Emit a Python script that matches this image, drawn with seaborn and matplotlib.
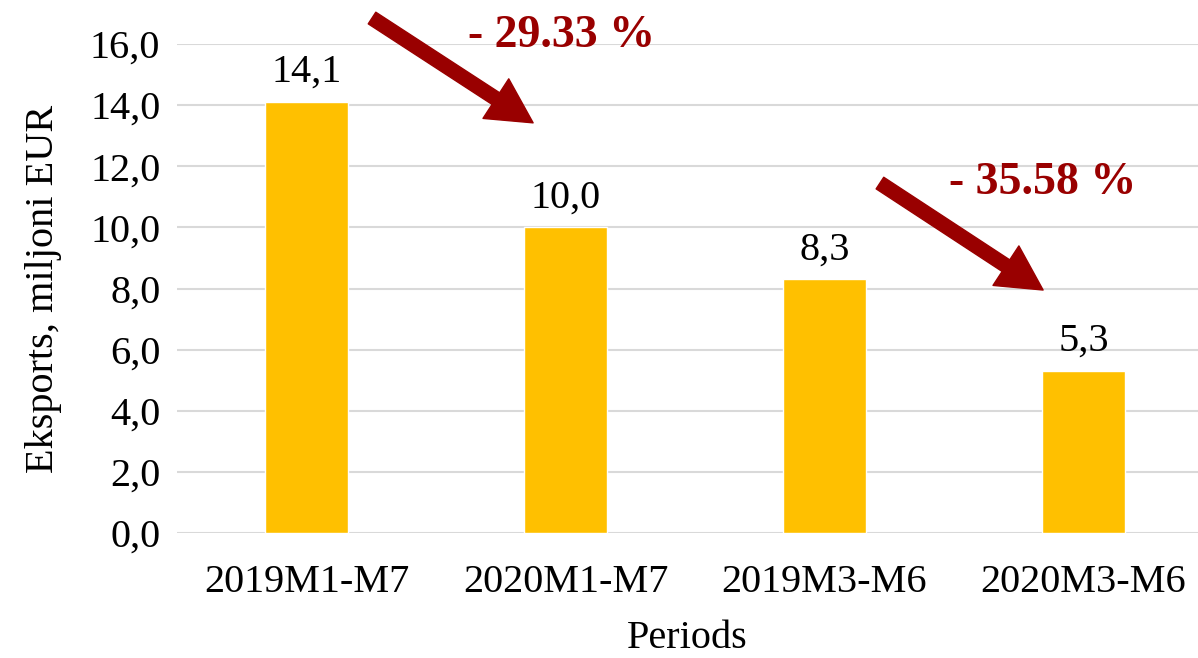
import pandas as pd
import matplotlib
matplotlib.use("Agg")
import matplotlib.pyplot as plt
import seaborn as sns
from matplotlib.ticker import FuncFormatter

# Data
periods = ["2019M1-M7", "2020M1-M7", "2019M3-M6", "2020M3-M6"]
exports = [14.1, 10.0, 8.3, 5.3]
change_labels = ["- 29.33 %", "- 35.58 %"]

bar_color = "#FFC000"
arrow_color = "#990000"

sns.set_theme(style="white")
plt.rcParams["font.family"] = ["Liberation Serif", "DejaVu Serif"]
plt.rcParams["text.color"] = "black"
plt.rcParams["axes.labelcolor"] = "black"

df = pd.DataFrame({"period": periods, "value": exports})

fig = plt.figure(figsize=(11.98, 6.58), dpi=100)
ax = fig.add_axes([177 / 1198, 125 / 658, 1 - 177 / 1198, 489 / 658])

sns.barplot(data=df, x="period", y="value", color=bar_color, width=0.32,
            saturation=1, ax=ax, zorder=3)

ax.set_ylim(0, 16)
ax.set_xlim(-0.5, 3.442)
ax.set_yticks(range(0, 17, 2))
ax.yaxis.set_major_formatter(FuncFormatter(lambda v, p: f"{v:.1f}".replace(".", ",")))
ax.grid(axis="y", color="#d9d9d9", linewidth=1.5, zorder=0)
ax.set_axisbelow(True)
for s in ax.spines.values():
    s.set_visible(False)
ax.tick_params(axis="both", length=0, labelsize=29, colors="black")
ax.tick_params(axis="x", pad=22)
ax.tick_params(axis="y", pad=12)

ax.set_xlabel("Periods", fontsize=29, labelpad=14, color="black")
ax.set_ylabel("Eksports, miljoni EUR", fontsize=29, labelpad=20, color="black")

# Value labels
ax.bar_label(ax.containers[0], labels=[f"{v:.1f}".replace(".", ",") for v in exports],
             fontsize=29, padding=8, color="black")

# Change arrows and labels
arrows = [((0.253, 16.85), (0.875, 13.42)), ((2.214, 11.45), (2.844, 7.95))]
text_pos = [(0.986, 16.25), (2.844, 11.45)]
for (start, end), lbl, tp in zip(arrows, change_labels, text_pos):
    ax.annotate("", xy=end, xytext=start, annotation_clip=False,
                arrowprops=dict(arrowstyle="simple,head_length=1.6,head_width=1.7,tail_width=0.5",
                                mutation_scale=20, color=arrow_color, shrinkA=0, shrinkB=0))
    ax.text(tp[0], tp[1], lbl, fontsize=33, fontweight="bold", color=arrow_color,
            ha="center", va="center", clip_on=False)

plt.savefig("out.png", dpi=100)
plt.close()
